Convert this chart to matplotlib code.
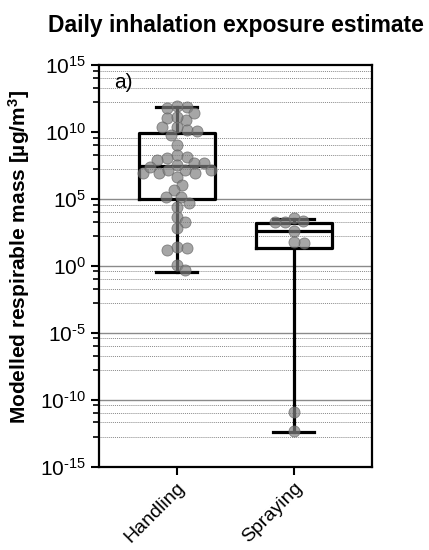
import numpy as np
import matplotlib
matplotlib.use("Agg")
import matplotlib.pyplot as plt

plt.rcParams['font.family'] = ['Liberation Sans', 'DejaVu Sans']
plt.rcParams['mathtext.fontset'] = 'custom'
plt.rcParams['mathtext.rm'] = 'Liberation Sans'
plt.rcParams['mathtext.bf'] = 'Liberation Sans:bold'
plt.rcParams['mathtext.it'] = 'Liberation Sans'

# ---- data (log10 of modelled respirable mass, ug/m3) ----
groups = ["Handling", "Spraying"]

handling_log = [11.89, 11.81, 11.94, 11.06, 10.89, 11.39, 11.14, 10.15, 10.39, 10.39,
                9.77, 10.07, 9.03, 8.28, 8.15, 7.66, 8.03, 7.66, 6.91, 6.91,
                7.16, 7.16, 7.16, 7.53, 7.91, 6.91, 7.40, 6.66, 6.04, 5.66,
                5.16, 5.16, 4.67, 4.42, 3.67, 3.30, 2.80, 1.43, 1.18, 1.31,
                0.06, -0.31]
spraying_log = [3.25, 3.60, 3.25, 3.37, 2.60, 1.68, 1.76, -10.89, -12.33]

# box statistics (log10)
whislo_log = [-0.46, -12.39]
q1_log = [4.97, 1.36]
med_log = [7.46, 2.63]
q3_log = [9.94, 3.22]
whishi_log = [11.84, 3.50]

fig = plt.figure(figsize=(4.29, 5.5), dpi=100)
ax = fig.add_axes([0.2308, 0.1515, 0.867 - 0.2308, 0.882 - 0.1515])

ax.set_yscale('log')
ax.set_ylim(1e-15, 1e15)
ax.set_xlim(-0.664, 1.67)

# grid lines
majors = np.arange(-15, 16, 5)
for m in majors:
    if -15 < m < 10:
        ax.axhline(10.0 ** m, color='#8a8a8a', lw=1.0, zorder=0)
minor_frac = [0.44, 0.66, 0.80, 0.915]
minor_pos = []
for m in majors[:-1]:
    for f in minor_frac:
        minor_pos.append(10.0 ** (m + 5 * f))
        ax.axhline(10.0 ** (m + 5 * f), color='#8a8a8a', lw=0.7,
                   ls=(0, (1, 1)), zorder=0)


def exp_label(m):
    s = str(m).replace('-', '\u2010')
    return r'$10^{%s}$' % s


ax.set_yticks([10.0 ** m for m in majors])
ax.set_yticklabels([exp_label(m) for m in majors])
ax.set_yticks(minor_pos, minor=True)
ax.yaxis.set_minor_formatter(matplotlib.ticker.NullFormatter())

# boxes
stats = []
for i in range(len(groups)):
    stats.append(dict(med=10 ** med_log[i], q1=10 ** q1_log[i], q3=10 ** q3_log[i],
                      whislo=10 ** whislo_log[i], whishi=10 ** whishi_log[i],
                      fliers=[], label=groups[i]))
lw = 2.3
ax.bxp(stats, positions=[0, 1], widths=0.65, capwidths=0.35, showfliers=False,
       boxprops=dict(color='k', lw=lw), whiskerprops=dict(color='k', lw=lw),
       capprops=dict(color='k', lw=lw), medianprops=dict(color='k', lw=lw),
       zorder=2)


# simple beeswarm in pixel space
def swarm(xc, vals, d):
    trans = ax.transData
    pts = trans.transform(np.column_stack([np.full(len(vals), xc), vals]))
    order = np.argsort(-pts[:, 1])
    placed = []
    xs = np.zeros(len(vals))
    for idx in order:
        x0, y0 = pts[idx]
        cands = [x0]
        for (px, py) in placed:
            dy = y0 - py
            if abs(dy) < d:
                dx = np.sqrt(d * d - dy * dy)
                cands += [px + dx, px - dx]
        cands.sort(key=lambda c: abs(c - x0))
        for c in cands:
            ok = True
            for (px, py) in placed:
                if (c - px) ** 2 + (y0 - py) ** 2 < d * d - 1e-6:
                    ok = False
                    break
            if ok:
                break
        placed.append((c, y0))
        xs[idx] = c
    back = trans.inverted().transform(np.column_stack([xs, pts[:, 1]]))
    return back[:, 0]


fig.canvas.draw()
for i, vals_log in enumerate([handling_log, spraying_log]):
    vals = 10.0 ** np.array(vals_log)
    xs = swarm(i, vals, 10.0)
    ax.scatter(xs, vals, s=64, color='#808080', alpha=0.7,
               edgecolor='#606060', linewidth=0.6, zorder=3)

ax.set_xticks([0, 1])
ax.set_xticklabels(groups, rotation=45, ha='right', rotation_mode='anchor',
                   fontsize=14)
ax.tick_params(axis='y', which='major', labelsize=15, length=6, width=1.5)
ax.tick_params(axis='y', which='minor', length=4, width=1.2)
ax.tick_params(axis='x', length=6, width=1.5, pad=3)
for sp in ax.spines.values():
    sp.set_linewidth(1.6)

ax.set_ylabel(r'Modelled respirable mass [µg/m$^{\mathbf{3}}$]',
              fontsize=15, fontweight='bold')
ax.yaxis.set_label_coords(-0.245, 0.522)
ax.set_title('Daily inhalation exposure estimate', fontsize=16.5,
             fontweight='bold', pad=24)
ax.text(0.055, 0.955, 'a)', transform=ax.transAxes, fontsize=15,
        ha='left', va='center')

fig.savefig('out.png', dpi=100)
